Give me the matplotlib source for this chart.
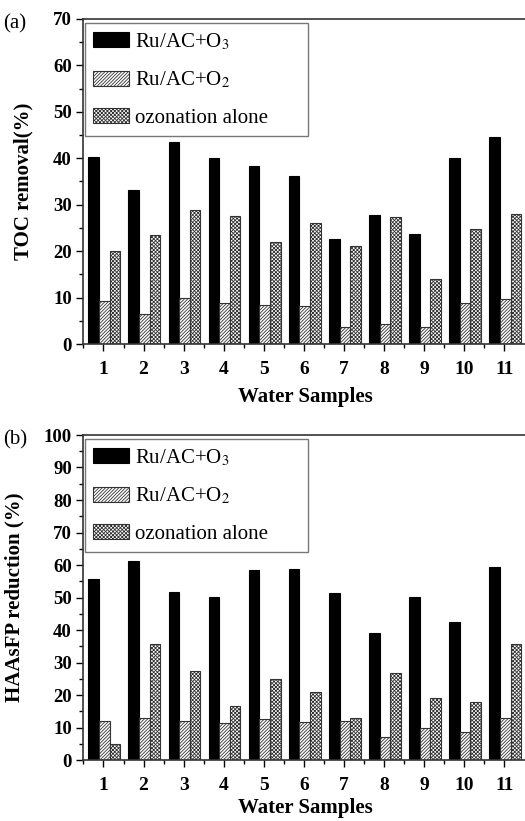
import numpy as np
import matplotlib
matplotlib.use("Agg")
import matplotlib.pyplot as plt
from matplotlib.ticker import MultipleLocator

plt.rcParams['font.family'] = ['Liberation Serif', 'DejaVu Serif']
plt.rcParams['mathtext.fontset'] = 'stix'
plt.rcParams['hatch.linewidth'] = 0.6

# Data
samples = ['1', '2', '3', '4', '5', '6', '7', '8', '9', '10', '11']
series_names = ['Ru/AC+O$_3$', 'Ru/AC+O$_2$', 'ozonation alone']

toc_ru_o3 = [40.2, 33.1, 43.4, 40.1, 38.4, 36.1, 22.6, 27.8, 23.7, 40.0, 44.6]
toc_ru_o2 = [9.3, 6.4, 10.0, 8.8, 8.4, 8.1, 3.7, 4.2, 3.7, 8.8, 9.7]
toc_ozone = [20.1, 23.4, 28.8, 27.6, 21.9, 26.1, 21.1, 27.4, 14.0, 24.8, 28.1]

haa_ru_o3 = [55.7, 61.2, 51.8, 50.1, 58.4, 58.9, 51.5, 39.0, 50.1, 42.6, 59.5]
haa_ru_o2 = [11.9, 12.9, 11.9, 11.5, 12.5, 11.6, 11.9, 7.1, 10.0, 8.7, 12.9]
haa_ozone = [5.0, 35.7, 27.4, 16.5, 24.9, 20.8, 12.8, 26.9, 19.1, 17.7, 35.8]

fig = plt.figure(figsize=(5.25, 8.21), dpi=100)

W, H = 525, 821
left_px = 83
unit_px = 40.1
xmin, xmax = 0.49, 11.6
ax_w = (xmax - xmin) * unit_px / W


def draw_panel(ax, vals, ymax, ylabel, tag, xpad):
    x = np.arange(1, len(samples) + 1)
    w = 0.265
    styles = [dict(color='black', edgecolor='black'),
              dict(facecolor='white', edgecolor='#333333', hatch='//////////'),
              dict(facecolor='white', edgecolor='#333333', hatch='xxxxxxxxx')]
    for i, (v, st) in enumerate(zip(vals, styles)):
        ax.bar(x + (i - 1) * w + 0.02, v, w, linewidth=0.8,
               label=series_names[i], **st)

    ax.set_xlim(xmin, xmax)
    ax.set_ylim(0, ymax)
    ax.set_xticks(x)
    ax.set_xticklabels(samples, fontsize=14, fontweight='bold')
    # minor x ticks halfway between the samples
    ax.set_xticks(np.append(x[:-1] + 0.5, 0.5), minor=True)
    ax.yaxis.set_major_locator(MultipleLocator(10))
    ax.yaxis.set_minor_locator(MultipleLocator(5))
    for lab in ax.get_yticklabels():
        lab.set_fontweight('bold')
        lab.set_fontsize(13.5)
    ax.tick_params(which='major', direction='out', length=5, width=1, pad=7)
    ax.tick_params(which='minor', direction='out', length=3, width=1)
    ax.tick_params(axis='y', which='major', pad=3)
    for s in ax.spines.values():
        s.set_linewidth(1.2)
        s.set_color('#333333')
    ax.spines['right'].set_visible(False)

    ax.set_xlabel('Water Samples', fontsize=15, fontweight='bold', labelpad=xpad)
    ax.set_ylabel(ylabel, fontsize=15, fontweight='bold', labelpad=14)

    # legend box wider than its entries, as in the original
    x0 = 2 / (ax_w * W)
    w_leg = 223 / (ax_w * W)
    leg = ax.legend(loc='upper left', fontsize=15, frameon=True, fancybox=False,
                    bbox_to_anchor=(x0, 1 - 4 / 325, w_leg, 0), mode='expand',
                    handlelength=1.7, handleheight=0.75, handletextpad=0.3,
                    labelspacing=0.85, borderaxespad=0.0, borderpad=0.4)
    leg.get_frame().set_edgecolor('#555555')
    leg.get_frame().set_linewidth(1.0)

    ax.text(-0.18, 0.985, tag, transform=ax.transAxes, fontsize=15,
            ha='left', va='center')


# panel (a)
ax1 = fig.add_axes([left_px / W, 1 - 344 / H, ax_w, 325 / H])
draw_panel(ax1, [toc_ru_o3, toc_ru_o2, toc_ozone], 70, 'TOC removal(%)', '(a)', 7)

# panel (b)
ax2 = fig.add_axes([left_px / W, 1 - 760 / H, ax_w, 325 / H])
draw_panel(ax2, [haa_ru_o3, haa_ru_o2, haa_ozone], 100, 'HAAsFP reduction (%)', '(b)', 3)

plt.savefig('out.png', dpi=100)
